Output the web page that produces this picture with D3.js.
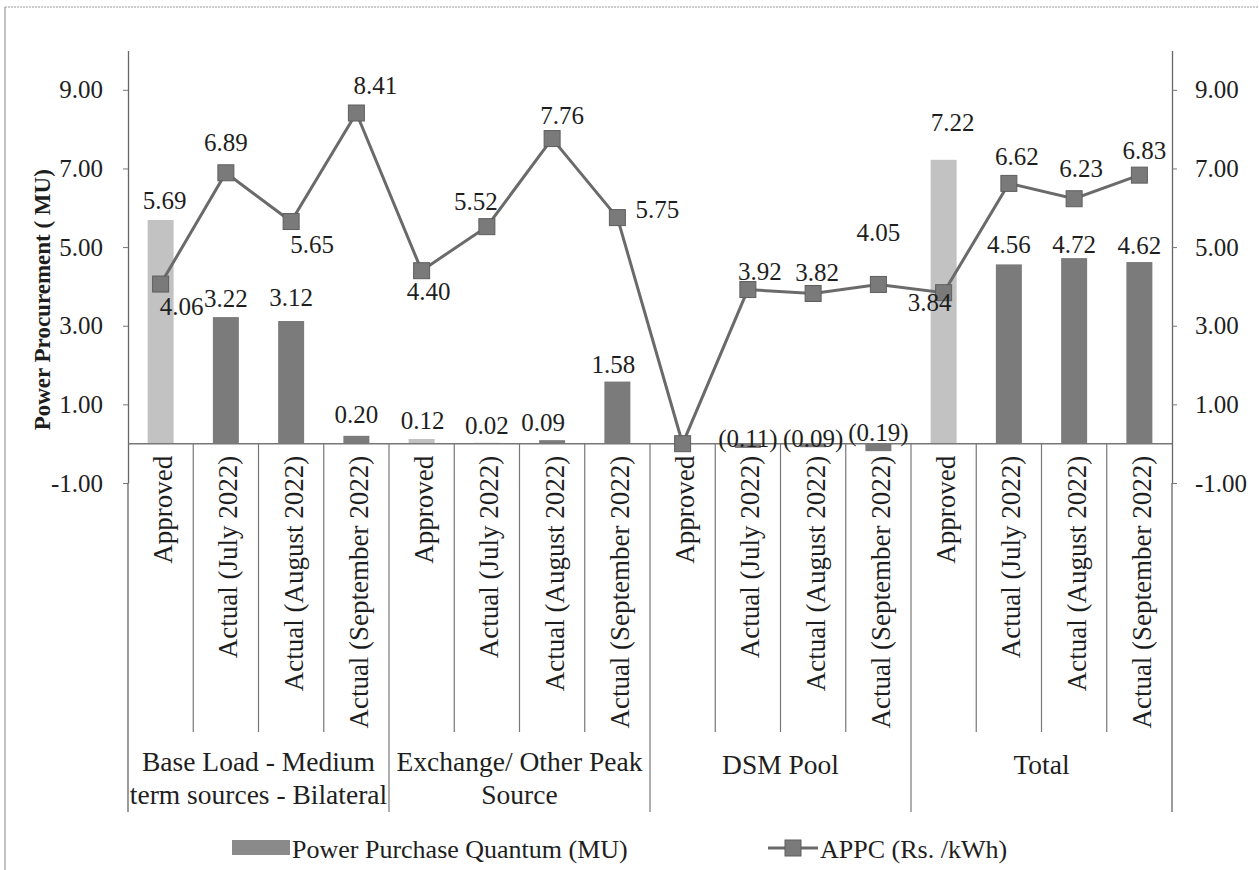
<!DOCTYPE html>
<html>
<head>
<meta charset="utf-8">
<script src="https://cdn.jsdelivr.net/npm/d3@7"></script>
<style>
  body { margin: 0; background: #fff; }
  svg text { font-family: "Liberation Serif", "Times New Roman", "DejaVu Serif", serif !important; fill: #1e1e1e; }
</style>
</head>
<body>
<div id="chart"></div>
<script>
// categories (16 bars, 4 groups of 4)
const categories = [
  "Approved", "Actual (July 2022)", "Actual (August 2022)", "Actual (September 2022)",
  "Approved", "Actual (July 2022)", "Actual (August 2022)", "Actual (September 2022)",
  "Approved", "Actual (July 2022)", "Actual (August 2022)", "Actual (September 2022)",
  "Approved", "Actual (July 2022)", "Actual (August 2022)", "Actual (September 2022)"
];
const groups = [
  ["Base Load - Medium", "term sources - Bilateral"],
  ["Exchange/ Other Peak", "Source"],
  ["DSM Pool"],
  ["Total"]
];
// Power Purchase Quantum (MU) - bars
const quantum = [5.69, 3.22, 3.12, 0.20, 0.12, 0.02, 0.09, 1.58, 0, -0.11, -0.09, -0.19, 7.22, 4.56, 4.72, 4.62];
// APPC (Rs. /kWh) - line
const appc = [4.06, 6.89, 5.65, 8.41, 4.40, 5.52, 7.76, 5.75, 0, 3.92, 3.82, 4.05, 3.84, 6.62, 6.23, 6.83];
const tickValues = [-1, 1, 3, 5, 7, 9];

// label nudges [dx, dy] from the mark
const barLabelPos = [[4,-20],[0,-19],[0,-24],[0,-22],[1,-19],[0,-18],[-9,-18],[-4,-17],null,[0,-5],[0,-5],[0,-11],[9,-38],[0,-20],[0,-14],[0,-17]];
const lineLabelPos = [[21,22],[0,-31],[21,23],[19,-28],[7,21],[-11,-25],[10,-23],[40,-8],null,[12,-18],[4,-21],[0,-52],[-14,10],[8,-27],[7,-30],[5,-25]];

const W = 1259, H = 870;
const mLeft = 128, mRight = 1172, mTop = 50.5, mBottom = 483;
const catBottom = 732, groupBottom = 812;
const FONT = "Liberation Serif, Times New Roman, serif";

const svg = d3.select("#chart").append("svg").attr("width", W).attr("height", H)
  .attr("font-family", FONT);

// scanned page frame
svg.append("line").attr("x1", 5).attr("x2", W).attr("y1", 7).attr("y2", 7)
  .attr("stroke", "#9a9a9a").attr("stroke-width", 1.2).attr("stroke-dasharray", "2,1");
svg.append("line").attr("x1", 5).attr("x2", 5).attr("y1", 7).attr("y2", H)
  .attr("stroke", "#9a9a9a").attr("stroke-width", 1.2);

const x = d3.scaleBand().domain(d3.range(categories.length)).range([mLeft, mRight]).paddingInner(0).paddingOuter(0);
const y = d3.scaleLinear().domain([-1, 10]).range([mBottom, mTop]);
const bw = 26;
const cx = i => x(i) + x.bandwidth() / 2;

// axes
const fmt = d3.format(".2f");
const tickFmt = d => fmt(d).replace("\u2212", "-");
const yl = svg.append("g").attr("transform", `translate(${mLeft},0)`)
  .call(d3.axisLeft(y).tickValues(tickValues).tickFormat(tickFmt).tickSize(5).tickPadding(20).tickSizeOuter(0));
const yr = svg.append("g").attr("transform", `translate(${mRight},0)`)
  .call(d3.axisRight(y).tickValues(tickValues).tickFormat(tickFmt).tickSize(5).tickPadding(18).tickSizeOuter(0));
[yl, yr].forEach(g => {
  g.attr("font-family", FONT).attr("font-size", 25);
  g.selectAll(".domain").attr("stroke", "#666").attr("stroke-width", 1.3);
  g.selectAll(".tick line").attr("stroke", "#777");
  g.selectAll(".tick text").attr("fill", "#1e1e1e");
});

// axis lines continue down as table borders
[mLeft, mRight].forEach(px => {
  svg.append("line").attr("x1", px).attr("x2", px).attr("y1", mBottom).attr("y2", groupBottom)
    .attr("stroke", "#666").attr("stroke-width", 1.3);
});
d3.range(1, categories.length).forEach(i => {
  svg.append("line").attr("x1", x(i)).attr("x2", x(i)).attr("y1", y(0))
    .attr("y2", i % 4 === 0 ? groupBottom : catBottom)
    .attr("stroke", "#777").attr("stroke-width", 1.2);
});

svg.append("text")
  .attr("transform", `translate(50,${(mTop + mBottom) / 2 + 33}) rotate(-90)`)
  .attr("text-anchor", "middle").attr("font-size", 23).attr("font-weight", "bold")
  .text("Power Procurement ( MU)");

// bars
svg.append("g").selectAll("rect").data(quantum).join("rect")
  .attr("x", (d, i) => cx(i) - bw / 2)
  .attr("y", d => y(Math.max(0, d)))
  .attr("width", bw)
  .attr("height", d => Math.abs(y(d) - y(0)))
  .attr("fill", (d, i) => i % 4 === 0 ? "#c2c2c2" : "#7b7b7b");

// zero line
svg.append("line").attr("x1", mLeft).attr("x2", mRight).attr("y1", y(0)).attr("y2", y(0))
  .attr("stroke", "#777").attr("stroke-width", 1.5);

// line + markers
const line = d3.line().x((d, i) => cx(i)).y(d => y(d));
svg.append("path").datum(appc).attr("d", line)
  .attr("fill", "none").attr("stroke", "#6a6a6a").attr("stroke-width", 3);
svg.append("g").selectAll("rect").data(appc).join("rect")
  .attr("x", (d, i) => cx(i) - 8).attr("y", d => y(d) - 8)
  .attr("width", 16).attr("height", 16)
  .attr("fill", "#7a7a7a").attr("stroke", "#5e5e5e").attr("stroke-width", 1);

// data labels
const barFmt = d => d < 0 ? `(${fmt(-d)})` : fmt(d);
const barLabels = svg.append("g");
quantum.forEach((d, i) => {
  const p = barLabelPos[i];
  if (!p) return;
  barLabels.append("text")
    .attr("x", cx(i) + p[0])
    .attr("y", y(Math.max(0, d)) + p[1])
    .attr("dy", "0.35em").attr("text-anchor", "middle").attr("font-size", 25)
    .text(barFmt(d));
});
const lineLabels = svg.append("g");
appc.forEach((d, i) => {
  const p = lineLabelPos[i];
  if (!p) return;
  lineLabels.append("text")
    .attr("x", cx(i) + p[0])
    .attr("y", y(d) + p[1])
    .attr("dy", "0.35em").attr("text-anchor", "middle").attr("font-size", 25)
    .text(fmt(d));
});

// category labels
categories.forEach((c, i) => {
  svg.append("text")
    .attr("transform", `translate(${cx(i) + 2},${y(0) + 12}) rotate(-90)`)
    .attr("text-anchor", "end").attr("dy", "0.35em").attr("font-size", 27)
    .text(c);
});

// group labels
groups.forEach((g, k) => {
  const gx = (x(k * 4) + x(k * 4 + 3) + x.bandwidth()) / 2;
  g.forEach((t, j) => {
    svg.append("text").attr("x", gx).attr("y", (g.length === 1 ? 774 : 771) + j * 33)
      .attr("text-anchor", "middle").attr("font-size", 27.5).text(t);
  });
});

// legend
const lg = svg.append("g");
lg.append("rect").attr("x", 232).attr("y", 840).attr("width", 58).attr("height", 15).attr("fill", "#8a8a8a");
lg.append("text").attr("x", 292).attr("y", 858).attr("font-size", 26).text("Power Purchase Quantum (MU)");
lg.append("line").attr("x1", 768).attr("x2", 818).attr("y1", 848).attr("y2", 848)
  .attr("stroke", "#6a6a6a").attr("stroke-width", 3);
lg.append("rect").attr("x", 785).attr("y", 840).attr("width", 16).attr("height", 16)
  .attr("fill", "#7a7a7a").attr("stroke", "#5e5e5e");
lg.append("text").attr("x", 820).attr("y", 858).attr("font-size", 26).text("APPC (Rs. /kWh)");
</script>
</body>
</html>
